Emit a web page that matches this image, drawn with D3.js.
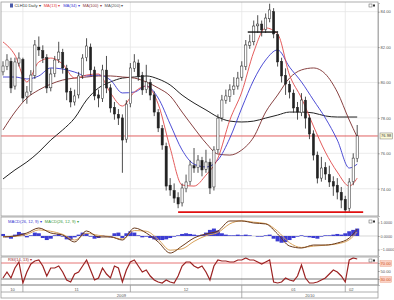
<!DOCTYPE html>
<html>
<head>
<meta charset="utf-8">
<script src="https://cdn.jsdelivr.net/npm/d3@7"></script>
<style>
  body { margin: 0; background: #fff; }
  text { font-family: "Liberation Sans", Arial, sans-serif; }
</style>
</head>
<body>
<div id="chart"></div>
<script>
// daily bars
var opens = [80.60,80.90,81.20,79.80,81.10,81.30,79.20,79.50,80.40,82.00,
  81.80,81.40,79.70,80.50,81.30,81.70,80.80,79.50,78.90,79.30,
  80.40,81.40,82.00,80.70,79.30,79.10,80.70,79.70,78.60,78.20,
  78.00,76.80,78.80,80.80,81.10,80.40,79.60,80.00,79.30,78.30,
  77.40,76.40,74.20,73.90,73.50,73.20,74.00,74.40,75.30,75.20,
  75.60,75.10,75.50,74.10,76.20,78.00,79.00,79.20,79.60,79.80,
  80.30,80.90,82.10,82.30,83.20,83.30,83.00,83.60,84.00,82.70,
  81.20,80.40,79.90,79.40,78.60,78.30,79.00,78.00,77.10,75.90,
  74.60,75.20,74.80,74.40,74.20,73.80,73.40,72.90,74.40,75.70];
var highs = [81.20,81.60,81.40,81.40,81.70,81.40,79.80,80.70,82.40,82.60,
  82.10,81.60,80.80,81.50,82.30,81.90,81.00,79.70,79.60,80.60,
  81.60,82.50,82.20,80.90,79.60,81.00,81.50,79.90,78.90,78.50,
  78.20,79.00,81.10,81.60,81.30,80.60,81.00,80.20,79.50,78.50,
  77.60,76.60,74.60,74.30,73.80,74.30,74.80,75.60,76.30,75.90,
  75.80,76.20,75.70,76.40,78.20,79.30,79.60,79.90,80.30,80.60,
  81.20,82.40,82.70,83.50,83.80,83.50,83.90,84.45,84.20,82.90,
  81.40,80.80,80.10,79.60,78.90,79.40,79.20,78.20,77.30,76.10,
  75.80,75.50,75.30,74.70,74.60,74.10,73.60,74.60,76.00,77.60];
var lows = [80.40,80.70,79.40,79.60,80.90,78.90,78.80,79.30,80.20,81.50,
  81.10,79.40,79.50,80.30,81.10,80.50,79.00,78.60,78.70,79.10,
  80.20,81.20,80.40,79.00,78.60,78.90,79.40,78.30,77.90,77.60,
  74.90,76.60,78.60,80.60,80.10,79.30,79.40,79.00,78.10,77.20,
  76.20,73.90,73.60,73.20,72.90,73.00,73.80,74.20,74.90,74.90,
  74.70,74.90,73.70,73.90,76.00,77.80,78.80,78.90,79.30,79.60,
  80.10,80.70,81.90,82.10,82.80,82.60,82.80,83.40,82.50,80.90,
  80.00,79.30,79.10,78.30,77.90,78.10,77.40,76.80,75.60,74.30,
  74.40,74.50,74.10,73.60,73.40,72.90,72.66,72.70,74.20,75.50];
var closes = [80.93,81.27,79.69,81.16,81.38,79.12,79.46,80.42,82.12,81.84,
  81.38,79.69,80.48,81.27,81.72,80.82,79.46,78.90,79.24,80.37,
  81.38,82.06,80.71,79.24,79.12,80.71,79.69,78.56,78.22,77.99,
  76.75,78.78,80.82,81.16,80.37,79.58,80.03,79.29,78.33,77.43,
  76.47,74.15,73.93,73.47,73.14,74.04,74.38,75.34,75.17,75.62,
  75.06,75.51,74.04,76.19,77.99,79.01,79.24,79.58,79.80,80.25,
  80.93,82.12,82.29,83.19,83.30,82.97,83.64,84.10,82.74,81.16,
  80.37,79.91,79.46,78.56,78.33,79.01,77.99,77.09,75.90,74.60,
  75.17,74.83,74.38,74.15,73.81,73.36,72.80,74.38,75.73,76.98];

// moving averages and MACD lines, read every third bar
var maBars = [0,3,6,9,12,15,18,21,24,27,30,33,36,39,42,45,48,51,54,57,60,63,66,69,72,75,78,81,84,87,89];
var ma13 = [82.29,81.55,80.03,81.16,81.38,81.04,80.25,80.42,80.48,79.41,78.67,79.46,79.80,78.78,76.30,74.21,
  74.15,74.77,75.73,77.88,79.46,81.72,83.08,82.74,80.42,79.12,77.54,76.07,74.94,74.15,74.60];
var ma34 = [80.31,80.31,80.20,80.37,80.82,80.76,80.59,80.37,80.42,80.14,79.41,79.46,79.80,79.12,77.65,76.19,
  75.39,75.23,75.62,76.86,78.56,80.14,81.27,81.84,80.87,80.03,79.01,77.99,76.75,75.17,75.39];
var ma100 = [77.32,78.33,79.12,79.58,79.91,80.14,80.25,80.31,80.37,80.37,80.31,80.25,80.03,79.69,79.24,78.33,
  77.43,76.58,75.96,75.90,76.19,76.92,78.33,79.29,80.25,80.71,80.82,80.48,79.46,77.88,76.92];
var ma200 = [74.55,75.06,75.51,76.07,76.75,77.32,77.99,79.01,79.69,80.03,80.25,80.31,80.37,80.20,79.86,79.29,
  78.84,78.45,78.05,77.82,77.77,77.82,77.99,78.16,78.33,78.33,78.28,78.11,78.05,78.05,78.05];
var macdLine = [-0.07,0.00,0.22,0.59,0.22,0.07,-0.44,0.37,-0.07,-0.07,-0.30,0.59,0.22,-0.44,-1.26,-0.74,
  -0.15,0.15,0.37,1.11,1.11,0.96,0.89,0.15,-0.74,-0.89,-0.67,-0.67,-0.52,-0.15,0.52];
var signalLine = [-0.05,-0.03,0.12,0.45,0.35,0.12,-0.30,0.20,0.05,-0.05,-0.22,0.40,0.35,-0.25,-1.05,-0.95,
  -0.40,0.02,0.25,0.90,1.12,1.02,0.92,0.35,-0.50,-0.85,-0.75,-0.68,-0.58,-0.28,0.30];

// per bar
var macdHist = [0.15,-0.10,-0.20,0.10,0.30,0.20,-0.10,0.05,0.25,0.20,
  -0.15,-0.30,-0.20,0.05,0.15,-0.05,-0.25,-0.30,-0.10,0.10,
  0.25,0.20,-0.05,-0.20,-0.15,0.05,-0.05,-0.10,0.20,0.25,
  -0.15,0.20,0.35,0.25,0.05,-0.10,-0.05,-0.15,-0.25,-0.30,
  -0.30,-0.25,-0.15,-0.05,0.05,0.15,0.20,0.15,0.10,0.05,
  0.10,0.25,0.45,0.55,0.40,0.20,0.10,0.05,0.05,0.10,
  0.05,0.10,0.05,0.00,-0.05,-0.05,0.05,0.10,-0.20,-0.40,
  -0.50,-0.45,-0.30,-0.15,-0.05,0.05,-0.05,-0.10,-0.15,-0.20,
  -0.05,0.05,0.05,0.10,0.15,0.10,0.20,0.35,0.45,0.55];
var rsi = [32.5,47.5,32.5,57.5,72.5,20,47.5,67.5,75,77.5,
  62.5,37.5,57.5,57.5,62.5,47.5,27.5,22.5,42.5,47.5,
  62.5,77.5,52.5,27.5,32.5,57.5,42.5,32.5,62.5,57.5,
  22.5,52.5,72.5,77.5,62.5,47.5,52.5,37.5,27.5,22.5,
  20,27.5,22.5,20,37.5,62.5,72.5,72.5,62.5,57.5,
  62.5,47.5,27.5,62.5,77.5,75,75,72.5,72.5,77.5,
  77.5,82.5,77.5,77.5,72.5,67.5,72.5,77.5,22.5,20,
  22.5,32.5,27.5,25,37.5,65,32.5,20,20,22.5,
  27.5,32.5,42.5,52.5,47.5,37.5,22.5,77.5,82.5,80];

var priceTicks = [74, 76, 78, 80, 82, 84];
var macdTicks = [-1, 0, 1];
var rsiTicks = [30, 50, 70];
var monthLabels = ["10", "11", "12", "01", "02"];
var monthStarts = [5, 32, 60, 86];
var yearLabels = ["2009", "2010"];
var yearStart = 60;
var supportLevel = 72.68, supportFrom = 44, supportTo = 90.5;
var resistLevel = 82.85, resistFrom = 61.5, resistTo = 69;
var legendItems = [["CLH10 Daily \u25BE", "#333"], ["MA(13) \u25BE", "#e04040"], ["MA(34) \u25BE", "#3a3ad0"],
  ["MA(100) \u25BE", "#8b3a3a"], ["MA(200) \u25BE", "#555"]];
var macdLegend = [["MACD(26, 12, 9) \u25BE", "#3a3ad0"], ["MACD(26, 12, 9) \u25BE", "#3a9a3a"]];

var W = 394, H = 300, L = 1, R = 378;
var FS = "4.1px";
var svg = d3.select("#chart").append("svg").attr("width", W).attr("height", H);

var x = d3.scaleLinear().domain([0, closes.length - 1]).range([3, 357.2]);
var yP = d3.scaleLinear().domain([72.46, 84.49]).range([216, 3]);
var yM = d3.scaleLinear().domain([-1.48, 1.33]).range([256, 218]);
var yR = d3.scaleLinear().domain([15, 85]).range([285, 257]);

var panes = [[2, 216], [217, 256], [257, 285]];
var defs = svg.append("defs");
panes.forEach(function (p, k) {
  defs.append("clipPath").attr("id", "clip" + k).append("rect")
    .attr("x", L).attr("y", p[0]).attr("width", R - L).attr("height", p[1] - p[0]);
});

// grid lines
var grid = svg.append("g").attr("stroke", "#e6e6e6").attr("stroke-width", 0.8);
monthStarts.forEach(function (i) {
  grid.append("line").attr("x1", x(i)).attr("x2", x(i)).attr("y1", 2).attr("y2", 285);
});
priceTicks.forEach(function (p) {
  grid.append("line").attr("x1", L).attr("x2", R).attr("y1", yP(p)).attr("y2", yP(p));
});

// main pane
var main = svg.append("g").attr("clip-path", "url(#clip0)");
main.append("line").attr("x1", L).attr("x2", R)
  .attr("y1", yP(closes[closes.length - 1])).attr("y2", yP(closes[closes.length - 1]))
  .attr("stroke", "#e06060").attr("stroke-width", 1);

var maLine = d3.line().x(function (d, k) { return x(maBars[k]); }).y(function (d) { return yP(d); })
  .curve(d3.curveMonotoneX);
[[ma200, "#222", 1], [ma100, "#7a2c2c", 0.9], [ma34, "#3a3ad0", 0.9], [ma13, "#e04a4a", 0.9]].forEach(function (m) {
  main.append("path").attr("d", maLine(m[0])).attr("fill", "none")
    .attr("stroke", m[1]).attr("stroke-width", m[2]);
});

var bw = 2.2;
var candle = main.selectAll("g.c").data(closes).enter().append("g");
candle.append("line")
  .attr("x1", function (d, i) { return x(i); }).attr("x2", function (d, i) { return x(i); })
  .attr("y1", function (d, i) { return yP(highs[i]); }).attr("y2", function (d, i) { return yP(lows[i]); })
  .attr("stroke", "#222").attr("stroke-width", 0.8);
candle.append("rect")
  .attr("x", function (d, i) { return x(i) - bw / 2; })
  .attr("y", function (d, i) { return yP(Math.max(d, opens[i])); })
  .attr("width", bw)
  .attr("height", function (d, i) { return Math.max(0.8, Math.abs(yP(d) - yP(opens[i]))); })
  .attr("fill", function (d, i) { return d >= opens[i] ? "#fff" : "#222"; })
  .attr("stroke", "#222").attr("stroke-width", 0.5);

main.append("line").attr("x1", x(supportFrom)).attr("x2", x(supportTo))
  .attr("y1", yP(supportLevel)).attr("y2", yP(supportLevel))
  .attr("stroke", "#e01010").attr("stroke-width", 1.8);
main.append("line").attr("x1", x(resistFrom)).attr("x2", x(resistTo))
  .attr("y1", yP(resistLevel)).attr("y2", yP(resistLevel))
  .attr("stroke", "#111").attr("stroke-width", 1.4);

// macd pane
var mp = svg.append("g").attr("clip-path", "url(#clip1)");
mp.append("line").attr("x1", L).attr("x2", R).attr("y1", yM(0)).attr("y2", yM(0))
  .attr("stroke", "#bbb").attr("stroke-width", 0.6);
mp.selectAll("rect.h").data(macdHist).enter().append("rect")
  .attr("x", function (d, i) { return x(i) - 2; })
  .attr("y", function (d) { return yM(Math.max(0, d)); })
  .attr("width", 4)
  .attr("height", function (d) { return Math.abs(yM(d) - yM(0)); })
  .attr("fill", "#3c3cd2");
var mLine = d3.line().x(function (d, k) { return x(maBars[k]); }).y(function (d) { return yM(d); })
  .curve(d3.curveMonotoneX);
mp.append("path").attr("d", mLine(signalLine)).attr("fill", "none").attr("stroke", "#d9a25a").attr("stroke-width", 1);
mp.append("path").attr("d", mLine(macdLine)).attr("fill", "none").attr("stroke", "#6b3a1a").attr("stroke-width", 1);

// rsi pane
var rp = svg.append("g").attr("clip-path", "url(#clip2)");
rp.append("line").attr("x1", L).attr("x2", R).attr("y1", yR(70)).attr("y2", yR(70))
  .attr("stroke", "#e05050").attr("stroke-width", 0.8);
rp.append("line").attr("x1", L).attr("x2", R).attr("y1", yR(30)).attr("y2", yR(30))
  .attr("stroke", "#555").attr("stroke-width", 0.8);
rp.append("path").attr("d", d3.line().x(function (d, i) { return x(i); }).y(function (d) { return yR(d); })(rsi))
  .attr("fill", "none").attr("stroke", "#9b2222").attr("stroke-width", 1.2);

// frames
var frame = svg.append("g").attr("fill", "none").attr("stroke", "#9a9a9a").attr("stroke-width", 0.8);
panes.forEach(function (p) {
  frame.append("rect").attr("x", L).attr("y", p[0]).attr("width", R - L).attr("height", p[1] - p[0]);
});
frame.append("rect").attr("x", L).attr("y", 285).attr("width", R - L).attr("height", 13);
frame.append("line").attr("x1", L).attr("x2", R).attr("y1", 292).attr("y2", 292);
monthStarts.forEach(function (i) {
  frame.append("line").attr("x1", x(i)).attr("x2", x(i)).attr("y1", 285).attr("y2", 292);
});
frame.append("line").attr("x1", x(yearStart)).attr("x2", x(yearStart)).attr("y1", 292).attr("y2", 298);

// right axes
function rightAxis(scale, ticks, fmt) {
  var g = svg.append("g").attr("transform", "translate(" + R + ",0)")
    .call(d3.axisRight(scale).tickValues(ticks).tickFormat(d3.format(fmt)).tickSize(1.5).tickPadding(1));
  g.select(".domain").attr("stroke", "#888").attr("stroke-dasharray", "1,1");
  g.selectAll(".tick line").attr("stroke", "#888");
  g.selectAll("text").attr("font-size", FS).attr("fill", "#555");
  return g;
}
rightAxis(yP, priceTicks, ".2f");
rightAxis(yM, macdTicks, ".4f").selectAll("text").attr("font-size", "3.8px");
var ra = rightAxis(yR, rsiTicks, ".2f");
ra.selectAll(".tick").filter(function (d) { return d !== 50; }).each(function () {
  var t = d3.select(this);
  t.insert("rect", "text").attr("x", 2).attr("y", -2.8).attr("width", 11.5).attr("height", 5.6)
    .attr("fill", "#fbd3c6").attr("stroke", "#e89070").attr("stroke-width", 0.4);
  t.select("text").attr("fill", "#d05020");
});

// last price tag
var last = closes[closes.length - 1];
svg.append("rect").attr("x", R + 2).attr("y", yP(last) - 3).attr("width", 12.5).attr("height", 6)
  .attr("fill", "#fdfbd8").attr("stroke", "#777").attr("stroke-width", 0.5);
svg.append("text").attr("x", R + 3).attr("y", yP(last)).attr("dy", "0.35em")
  .attr("font-size", FS).attr("fill", "#333").text(d3.format(".2f")(last));

// date axis
var bounds = [x(0) - 1].concat(monthStarts.map(x)).concat([x(closes.length - 1)]);
monthLabels.forEach(function (m, k) {
  svg.append("text").attr("x", (bounds[k] + bounds[k + 1]) / 2).attr("y", 289.5).attr("dy", "0.35em")
    .attr("text-anchor", "middle").attr("font-size", FS).attr("fill", "#555").text(m);
});
var yb = [L, x(yearStart), R];
yearLabels.forEach(function (yl, k) {
  svg.append("text").attr("x", (yb[k] + yb[k + 1]) / 2).attr("y", 295.5).attr("dy", "0.35em")
    .attr("text-anchor", "middle").attr("font-size", FS).attr("fill", "#555").text(yl);
});

// legends
function legendRow(items, x0, y0) {
  var lx = x0;
  items.forEach(function (li) {
    var t = svg.append("text").attr("x", lx).attr("y", y0).attr("dy", "0.35em")
      .attr("font-size", FS).attr("fill", li[1]).text(li[0]);
    lx += t.node().getComputedTextLength() + 3;
  });
}
svg.append("rect").attr("x", 10).attr("y", 3.5).attr("width", 3).attr("height", 4).attr("fill", "#4a5aa8");
legendRow(legendItems, 14.5, 6);
legendRow(macdLegend, 8, 221.5);
legendRow([["RSI(14, 13) \u25BE", "#9b2222"]], 8, 259.5);

// little pane icons
[[369, 4], [369, 220], [369, 259]].forEach(function (p) {
  svg.append("rect").attr("x", p[0]).attr("y", p[1]).attr("width", 3).attr("height", 3)
    .attr("fill", "#fff").attr("stroke", "#555").attr("stroke-width", 0.5);
  svg.append("rect").attr("x", p[0] + 4).attr("y", p[1] + 0.5).attr("width", 2).attr("height", 2).attr("fill", "#333");
});
</script>
</body>
</html>
